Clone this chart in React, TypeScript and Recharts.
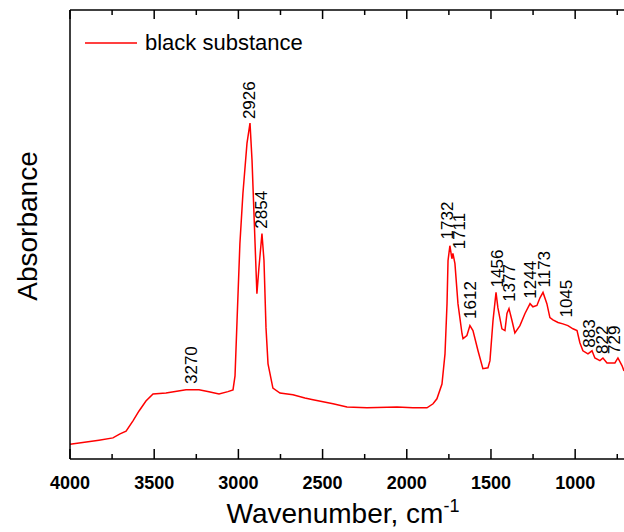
import { LineChart, Line, XAxis, YAxis, ReferenceDot } from 'recharts';

// spectrum (wavenumber in cm-1, absorbance in arbitrary units)
const wavenumbers = [
    4000, 3828, 3745, 3703, 3667, 3626, 3590, 3549, 3507, 3430, 3311, 3234, 3175, 3115, 3062, 3032,
    3020, 3008, 2991, 2973, 2949, 2931, 2919, 2901, 2890, 2878, 2860, 2848, 2836, 2824, 2795, 2753,
    2676, 2605, 2557, 2438, 2355, 2236, 2058, 1963, 1880, 1844, 1821, 1791, 1773, 1761, 1755, 1744,
    1732, 1726, 1714, 1696, 1672, 1666, 1643, 1625, 1607, 1577, 1548, 1518, 1506, 1488, 1470, 1459,
    1435, 1417, 1405, 1393, 1375, 1358, 1328, 1298, 1268, 1251, 1227, 1209, 1191, 1168, 1150, 1132,
    1102, 1073, 1043, 1013, 989, 972, 954, 924, 900, 883, 853, 835, 811, 764, 746, 722, 710
];
const absorbance = [
    0.033, 0.042, 0.047, 0.056, 0.062, 0.085, 0.107, 0.129, 0.145, 0.147, 0.154, 0.154, 0.150, 0.145, 0.150, 0.154,
    0.185, 0.308, 0.480, 0.592, 0.703, 0.748, 0.665, 0.480, 0.368, 0.426, 0.502, 0.442, 0.292, 0.212, 0.158, 0.147,
    0.143, 0.136, 0.132, 0.123, 0.116, 0.114, 0.116, 0.114, 0.114, 0.123, 0.134, 0.167, 0.234, 0.346, 0.442, 0.475,
    0.446, 0.458, 0.435, 0.346, 0.279, 0.268, 0.275, 0.297, 0.286, 0.241, 0.201, 0.203, 0.219, 0.308, 0.371, 0.337,
    0.290, 0.286, 0.324, 0.335, 0.308, 0.281, 0.297, 0.324, 0.346, 0.339, 0.342, 0.359, 0.371, 0.346, 0.315, 0.310,
    0.304, 0.301, 0.297, 0.290, 0.286, 0.259, 0.241, 0.234, 0.241, 0.225, 0.219, 0.225, 0.214, 0.214, 0.225, 0.208, 0.196
];

// peak annotations: text, where the text sits (wavenumber) and where it starts (absorbance)
const peakNames = ['3270', '2926', '2854', '1732', '1711', '1612', '1456', '1377', '1244', '1173', '1045', '883', '822', '729'];
const peakLabelWn = [3276, 2931, 2860, 1761, 1684, 1619, 1464, 1387, 1263, 1185, 1054, 912, 835, 766];
const peakLabelAbs = [0.167, 0.757, 0.513, 0.489, 0.467, 0.312, 0.382, 0.350, 0.357, 0.382, 0.315, 0.248, 0.234, 0.234];

const xTicks = [4000, 3750, 3500, 3250, 3000, 2750, 2500, 2250, 2000, 1750, 1500, 1250, 1000, 750];

const data = wavenumbers.map((wn, i) => ({ wn, a: absorbance[i] }));

const FONT = '"Liberation Sans", Arial, sans-serif';

const BottomTick = (props: any) => {
    const { x, y, payload } = props;
    const major = payload.value % 500 === 0;
    return (
        <g>
            <line x1={x} x2={x} y1={y} y2={y - (major ? 10 : 5)} stroke="#000" strokeWidth={1.5} />
            {major && (
                <text x={x} y={y + 30} textAnchor="middle" fontFamily={FONT} fontWeight="bold" fontSize={18} fill="#000">
                    {payload.value}
                </text>
            )}
        </g>
    );
};

const TopTick = (props: any) => {
    const { x, y, payload } = props;
    const major = payload.value % 500 === 0;
    return <line x1={x} x2={x} y1={y} y2={y + (major ? 9 : 5)} stroke="#000" strokeWidth={1.5} />;
};

const PeakText = (props: any) => {
    const { cx, cy, name } = props;
    return (
        <text
            x={cx}
            y={cy}
            transform={`rotate(-90 ${cx} ${cy})`}
            textAnchor="start"
            dominantBaseline="central"
            fontFamily={FONT}
            fontSize={17}
            fill="#000"
        >
            {name}
        </text>
    );
};

export default function App() {
    return (
        <div style={{ position: 'absolute', left: 0, top: 0, width: 624, height: 532, overflow: 'hidden', background: '#fff' }}>
            <LineChart width={624} height={532} data={data} margin={{ top: 0, right: 0, bottom: 0, left: 0 }}>
                <XAxis
                    dataKey="wn"
                    type="number"
                    domain={[710, 4000]}
                    reversed
                    allowDataOverflow
                    ticks={xTicks}
                    interval={0}
                    height={73}
                    tickSize={0}
                    tickMargin={0}
                    tickLine={false}
                    tick={<BottomTick />}
                    axisLine={{ stroke: '#000', strokeWidth: 1.5 }}
                    label={{
                        content: (p: any) => {
                            const vb = p.viewBox;
                            return (
                                <text x={vb.x + vb.width / 2 - 4} y={vb.y + 64} textAnchor="middle" fontFamily={FONT} fontSize={28} fill="#000">
                                    Wavenumber, cm<tspan dy={-11} fontSize={18}>-1</tspan>
                                </text>
                            );
                        },
                    }}
                />
                <XAxis
                    xAxisId="top"
                    dataKey="wn"
                    type="number"
                    orientation="top"
                    domain={[710, 4000]}
                    reversed
                    allowDataOverflow
                    ticks={xTicks}
                    interval={0}
                    height={10}
                    tickSize={0}
                    tickMargin={0}
                    tickLine={false}
                    tick={<TopTick />}
                    axisLine={{ stroke: '#000', strokeWidth: 1.5 }}
                />
                <YAxis
                    type="number"
                    domain={[0, 1]}
                    allowDataOverflow
                    width={70}
                    tick={false}
                    tickLine={false}
                    axisLine={{ stroke: '#000', strokeWidth: 1.5 }}
                    label={{
                        content: () => (
                            <text x={27} y={226} transform="rotate(-90 27 226)" textAnchor="middle" dominantBaseline="central" fontFamily={FONT} fontSize={28} fill="#000">
                                Absorbance
                            </text>
                        ),
                    }}
                />
                <Line
                    type="linear"
                    dataKey="a"
                    name="black substance"
                    stroke="#ff0000"
                    strokeWidth={1.5}
                    dot={false}
                    isAnimationActive={false}
                />
                {peakNames.map((name, i) => (
                    <ReferenceDot
                        key={name}
                        x={peakLabelWn[i]}
                        y={peakLabelAbs[i]}
                        r={0}
                        ifOverflow="visible"
                        shape={(p: any) => <PeakText {...p} name={name} />}
                    />
                ))}
            </LineChart>
            <div
                style={{
                    position: 'absolute',
                    top: 30,
                    left: 85,
                    display: 'flex',
                    alignItems: 'center',
                    fontFamily: FONT,
                    fontSize: 22,
                    lineHeight: '26px',
                }}
            >
                <svg width={52} height={4}>
                    <line x1={0} x2={52} y1={2} y2={2} stroke="#ff0000" strokeWidth={1.5} />
                </svg>
                <span style={{ marginLeft: 8, color: '#000' }}>black substance</span>
            </div>
        </div>
    );
}
